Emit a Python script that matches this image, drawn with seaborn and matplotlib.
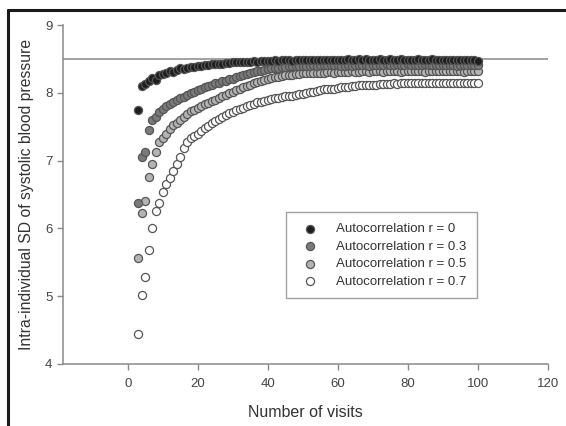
import pandas as pd
import seaborn as sns
import matplotlib.pyplot as plt
from matplotlib.lines import Line2D

# number of visits used to compute the SD
visits = list(range(3, 101))

r0 = [7.75, 8.10, 8.13, 8.18, 8.22, 8.19, 8.26, 8.28, 8.30, 8.33, 8.31, 8.34, 8.36, 8.35,
      8.37, 8.38, 8.38, 8.40, 8.39, 8.41, 8.41, 8.42, 8.42, 8.43, 8.43, 8.44, 8.44, 8.45,
      8.45, 8.46, 8.45, 8.46, 8.46, 8.47, 8.46, 8.47, 8.47, 8.47,
      8.47, 8.48, 8.47, 8.48, 8.48, 8.48, 8.47, 8.48, 8.48, 8.48,
      8.48, 8.49, 8.48, 8.49, 8.49, 8.48, 8.49, 8.49, 8.49, 8.49,
      8.49, 8.49, 8.50, 8.49, 8.49, 8.50, 8.49, 8.50, 8.49, 8.49,
      8.49, 8.50, 8.49, 8.49, 8.50, 8.49, 8.49, 8.50, 8.49, 8.49,
      8.49, 8.49, 8.50, 8.49, 8.49, 8.49, 8.50, 8.49, 8.49, 8.49,
      8.49, 8.48, 8.49, 8.49, 8.49, 8.48, 8.49, 8.48, 8.48, 8.47]

r03 = [6.38, 7.05, 7.13, 7.45, 7.60, 7.65, 7.72, 7.76, 7.80, 7.84, 7.86, 7.90, 7.93, 7.94,
       7.97, 8.00, 8.01, 8.04, 8.06, 8.08, 8.10, 8.12, 8.14, 8.15, 8.17, 8.18, 8.20, 8.21,
       8.23, 8.25, 8.27, 8.28, 8.30, 8.31, 8.32, 8.33, 8.34, 8.35,
       8.36, 8.36, 8.37, 8.38, 8.38, 8.39, 8.39, 8.39, 8.40, 8.40,
       8.40, 8.40, 8.41, 8.40, 8.41, 8.41, 8.41, 8.41, 8.41, 8.41,
       8.40, 8.40, 8.41, 8.40, 8.41, 8.41, 8.41, 8.41, 8.40, 8.41,
       8.41, 8.41, 8.41, 8.42, 8.41, 8.41, 8.42, 8.41, 8.41, 8.42,
       8.41, 8.41, 8.41, 8.41, 8.42, 8.41, 8.41, 8.41, 8.41, 8.41,
       8.41, 8.41, 8.41, 8.40, 8.41, 8.41, 8.41, 8.41, 8.41, 8.41]

r05 = [5.56, 6.22, 6.40, 6.76, 6.95, 7.12, 7.28, 7.34, 7.40, 7.47, 7.52, 7.56, 7.60, 7.64,
       7.69, 7.73, 7.75, 7.78, 7.80, 7.83, 7.85, 7.88, 7.90, 7.93, 7.95, 7.97, 8.00, 8.02,
       8.04, 8.06, 8.08, 8.10, 8.12, 8.15, 8.16, 8.18, 8.19, 8.21,
       8.22, 8.23, 8.24, 8.25, 8.26, 8.27, 8.27, 8.28, 8.28, 8.29,
       8.29, 8.29, 8.30, 8.30, 8.30, 8.30, 8.31, 8.31, 8.30, 8.31,
       8.31, 8.31, 8.31, 8.32, 8.31, 8.31, 8.32, 8.32, 8.31, 8.32,
       8.32, 8.32, 8.31, 8.32, 8.32, 8.32, 8.32, 8.31, 8.32, 8.32,
       8.32, 8.32, 8.32, 8.32, 8.31, 8.32, 8.32, 8.32, 8.32, 8.32,
       8.32, 8.32, 8.32, 8.32, 8.32, 8.31, 8.32, 8.32, 8.32, 8.32]

r07 = [4.44, 5.01, 5.28, 5.68, 6.01, 6.25, 6.38, 6.54, 6.65, 6.75, 6.85, 6.95, 7.05, 7.18,
       7.28, 7.33, 7.37, 7.40, 7.44, 7.48, 7.51, 7.55, 7.58, 7.62, 7.65, 7.67, 7.70, 7.72,
       7.74, 7.76, 7.78, 7.80, 7.82, 7.84, 7.86, 7.87, 7.88, 7.90,
       7.91, 7.92, 7.93, 7.94, 7.95, 7.96, 7.96, 7.97, 7.98, 7.99,
       8.00, 8.01, 8.02, 8.03, 8.04, 8.05, 8.05, 8.06, 8.06, 8.07,
       8.08, 8.08, 8.09, 8.10, 8.10, 8.11, 8.11, 8.12, 8.12, 8.12,
       8.12, 8.13, 8.13, 8.13, 8.13, 8.14, 8.13, 8.14, 8.14, 8.14,
       8.14, 8.14, 8.14, 8.15, 8.14, 8.14, 8.15, 8.15, 8.14, 8.15,
       8.15, 8.15, 8.14, 8.15, 8.15, 8.15, 8.15, 8.15, 8.15, 8.15]

labels = ["Autocorrelation r = 0", "Autocorrelation r = 0.3",
          "Autocorrelation r = 0.5", "Autocorrelation r = 0.7"]
fills = ["#1e1e1e", "#7a7a7a", "#b4b4b4", "#ffffff"]
true_sd = 8.5

sns.set_style("ticks")
plt.rcParams['font.family'] = ['Liberation Sans', 'DejaVu Sans']

fig = plt.figure(figsize=(5.66, 4.26), dpi=100)
ax = fig.add_axes([0.111, 0.146, 0.857, 0.795])

# black on top, white at the back
for i, (lab, vals) in enumerate(zip(labels, [r0, r03, r05, r07])):
    df = pd.DataFrame({"visits": visits, "sd": vals})
    sns.scatterplot(data=df, x="visits", y="sd", ax=ax, color=fills[i], s=34,
                    edgecolor="#555555", linewidth=0.9, label=lab, zorder=10 - i)

ax.axhline(true_sd, color="#8a8a8a", lw=1.1, zorder=1)

ax.set_xlim(-18.6, 120)
ax.set_ylim(4, 9)
ax.set_xticks([0, 20, 40, 60, 80, 100, 120])
ax.set_yticks([4, 5, 6, 7, 8, 9])
sns.despine(ax=ax)
for sp in ["left", "bottom"]:
    ax.spines[sp].set_color("#8a8a8a")
    ax.spines[sp].set_linewidth(1.1)
ax.tick_params(colors="#8a8a8a", labelcolor="#444444", labelsize=9.5, length=4, width=1)
ax.tick_params(axis="x", pad=6)

ax.set_xlabel("Number of visits", fontsize=11.5, color="#333333", labelpad=11)
ax.set_ylabel("Intra-individual SD of systolic blood pressure", fontsize=11.3,
              color="#333333", labelpad=8)

leg = ax.legend(loc="upper left", bbox_to_anchor=(0.46, 0.447), fontsize=9.5,
                frameon=True, fancybox=False, borderpad=0.8, labelspacing=0.4,
                handletextpad=1.0, borderaxespad=0, labelcolor="#333333")
leg.get_frame().set_edgecolor("#8a8a8a")
leg.get_frame().set_linewidth(1.0)

# frame lines of the original picture
fig.add_artist(Line2D([8 / 566, 1], [1 - 10 / 426, 1 - 10 / 426], color="#1a1a1a", lw=2.2))
fig.add_artist(Line2D([8 / 566, 8 / 566], [0, 1 - 10 / 426], color="#1a1a1a", lw=2.2))

fig.savefig("out.png", dpi=100)
